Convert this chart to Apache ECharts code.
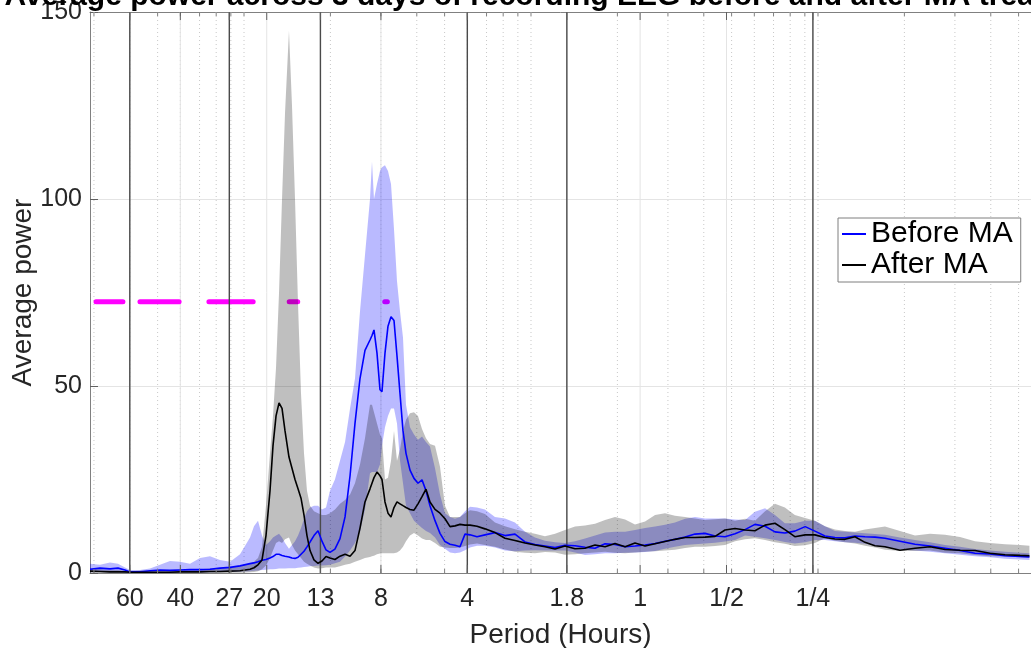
<!DOCTYPE html>
<html><head><meta charset="utf-8">
<script src="https://cdn.jsdelivr.net/npm/echarts@6/dist/echarts.min.js"></script>
<style>html,body{margin:0;padding:0;background:#fff}#c{width:1031px;height:648px}</style>
</head><body><div id="c"></div>
<script>
// ---- data (period in hours; power values) ----
const periodHours = [
 82.57,76.20,70.33,65.95,62.35,59.90,55.28,51.02,47.09,43.46,40.11,37.01,34.16,31.53,29.10,26.85,24.78,22.87,
 22.15,21.45,20.77,20.12,19.48,19.02,18.56,18.12,17.69,17.27,16.73,16.33,15.94,15.56,15.19,14.83,14.48,14.13,13.69,13.25,
 12.84,12.43,12.04,11.57,11.11,10.67,10.25,9.851,9.463,9.092,8.734,8.595,8.458,8.257,8.061,7.932,7.744,7.559,7.379,7.204,
 7.032,6.865,6.702,6.542,6.336,6.136,5.942,5.754,5.573,5.397,5.184,4.980,4.785,4.596,4.416,4.242,4.075,3.915,3.701,
 3.472,3.204,2.957,2.729,2.518,2.324,2.145,1.979,1.827,1.686,1.556,1.436,1.325,1.223,1.128,1.042,0.961,0.887,0.819,0.756,0.697,
 0.644,0.594,0.548,0.506,0.467,0.431,0.398,0.367,0.339,0.313,0.289,0.266,0.246,0.2269,0.2094,0.1932,0.1784,0.1646,0.1519,0.1402,
 0.1243,0.1102,0.0977,0.0866,0.0768,0.0681,0.0604,0.0535,0.0474,0.0440
];
const beforeMean = [
 1.0,1.3,1.1,1.3,0.8,0.3,0.3,0.6,0.8,0.7,0.8,0.9,0.9,1.0,1.3,1.5,1.9,2.5,
 2.7,3.0,3.4,3.6,4.0,4.4,5.0,5.0,4.7,4.5,4.3,4.0,3.9,4.2,5.0,5.8,7.0,8.3,10.0,11.3,
 8.5,6.2,5.5,6.4,9.2,15,26,40,52,59.5,62.3,63.5,65,58.8,49,48.5,58.8,66,68.5,67.5,
 58,48,38,32,27.5,25.3,24,24.9,22,18,14,10.6,8.4,7.7,7.4,7.0,10.4,10.2,9.7,
 10.2,10.8,10.0,10.4,8.3,7.6,7.2,6.8,7.4,7.3,6.9,6.6,7.8,7.6,7.0,7.2,7.5,7.9,8.5,9.0,9.6,
 10.4,10.6,9.9,9.7,10.5,11.6,13.0,12.5,11.0,10.7,11.2,12.4,11.2,9.9,9.5,9.4,9.9,9.7,9.6,9.3,
 8.5,7.7,7.2,6.6,6.0,5.3,5.1,4.6,4.4,4.3
];
const beforeLow = [
 0.2,0.3,0.2,0.2,0.1,0.0,0.0,0.1,0.2,0.1,0.2,0.2,0.2,0.2,0.3,0.3,0.4,0.5,
 0.6,0.7,0.8,0.9,1.0,1.0,1.1,1.2,1.2,1.2,1.3,1.3,1.3,1.4,1.5,1.6,1.7,1.8,1.9,2.0,
 2.0,2.1,2.2,2.6,3.0,4.4,6.0,8.0,11,17,26.7,27,27,27,29,34,39,42,44,44,
 40,30,24,18,16,14,13,12,11.2,10.7,9.5,7.5,6.5,5.5,5.3,5.5,6.1,6.8,7.3,
 7.3,6.8,6.0,5.8,6.0,6.1,6.0,6.0,6.0,5.5,4.8,5.0,5.3,5.3,5.4,5.5,5.6,5.9,6.5,7.0,7.5,
 7.7,7.9,8.1,8.4,8.8,10.0,9.7,9.3,8.8,8.3,7.9,8.2,8.8,8.8,8.5,8.2,8.1,7.8,7.3,6.8,
 6.3,6.0,5.7,5.3,4.9,4.5,4.2,3.8,3.6,3.5
];
const beforeHigh = [
 2.5,2.2,2.8,2.5,1.5,0.8,0.8,1.2,2.2,3.2,3.0,2.5,4.0,4.5,3.5,3.0,5.0,9.5,
 12.5,14,10,7.5,8.5,9.5,10,10.5,9.5,8,6.5,7.5,8.5,10,12,14.5,16.5,17.5,18,18,
 17,17.5,22,25,30,35,44,52,70,85,100,110,100,104,107.5,108.5,109,107.5,104,92,
 78,70,63,45,39,37,35.6,36.5,35,33.8,28,21,16,15,14.5,15,16.5,17.7,17.5,
 17.0,15.0,14.6,13.5,11.0,9.5,8.6,8.2,8.0,8.5,9.2,10.0,10.8,11.0,11.0,11.5,12.0,12.4,12.9,13.5,14.5,
 15.0,14.6,14.6,14.6,14.3,14.2,16.4,17.3,15.5,13.3,13.3,14.0,14.0,12.5,11.2,11.0,10.8,10.6,10.4,10.2,
 9.5,8.8,8.2,7.5,7.0,6.4,6.0,5.7,5.4,5.3
];
const afterMean = [
 0.5,0.4,0.3,0.3,0.3,0.2,0.2,0.2,0.2,0.2,0.3,0.3,0.3,0.4,0.4,0.5,0.6,1.0,
 1.4,2.2,3.5,10,22,34,42,45.5,44,38,31,28,25,22.5,20,15.5,10,6,3.5,2.6,
 3.2,4.4,4.0,3.6,4.5,5.0,4.5,6.0,12,19,22.5,24,25.5,27,26,25,19,16,15,17.5,
 19,18.5,18,17.5,17,16.8,18.5,20.4,22.4,19,17,16,14.5,12.4,12.6,13.0,12.8,12.8,12.5,
 11.8,10.8,9.3,8.7,8.0,7.5,7.0,6.4,7.2,6.5,6.6,7.5,7.0,7.9,7.0,8.0,7.2,7.8,8.4,9.0,9.5,
 9.5,9.6,9.8,11.5,11.9,11.5,11.3,12.8,13.3,11.6,9.7,10.2,10.2,9.5,9.1,9.0,9.7,8.2,7.3,7.0,
 6.1,6.6,7.0,6.3,6.1,6.0,5.3,4.9,4.7,4.6
];
const afterLow = [
 0.1,0.1,0.0,0.0,0.0,0.0,0.0,0.0,0.0,0.0,0.0,0.0,0.0,0.0,0.0,0.1,0.1,0.2,
 0.3,0.5,1.0,2.0,4.0,6.0,8.0,8.5,8.0,9.0,9.5,7.5,6.0,5.0,4.0,3.0,2.5,2.0,1.5,1.2,
 1.3,1.5,1.5,1.5,1.8,2.2,2.5,3.0,3.5,4.0,4.3,4.5,4.6,5.0,5.2,5.3,5.3,5.3,5.3,5.3,
 5.5,6.0,7.0,8.5,10,10.7,10,9.2,8.8,8.8,8.0,7.0,6.8,6.7,6.7,6.8,7.2,7.6,7.9,
 7.5,7.0,6.3,5.7,5.4,5.3,5.6,5.5,4.9,5.0,5.3,5.5,5.7,5.4,5.3,5.5,5.7,5.8,6.0,6.2,6.7,
 7.0,7.0,7.2,7.5,8.5,9.0,9.3,8.8,8.2,7.8,7.2,7.4,8.0,9.3,8.6,8.2,7.9,7.3,6.8,6.2,
 5.9,5.9,6.0,5.4,5.3,4.8,4.5,4.4,4.2,4.1
];
const afterHigh = [
 1.2,1.0,0.8,0.8,0.6,0.5,0.6,0.6,0.7,0.8,0.9,1.0,1.0,1.2,1.3,1.5,2.0,2.5,
 3.0,4.0,7.0,18,32,42,55,75,100,123,145,125,100,72,48,32,22,18,16.5,16,
 15.5,15.5,16,17,18.5,19.5,21,24,29,36,45,45,43,40,37,36,25,25.5,30,38,
 30,33,38,41,42.7,43,42,38.5,36,34.5,34,28.4,18,15,15,15,16,16.8,16.5,
 15.8,13.5,12.5,11.7,11.0,10.5,9.8,10.5,11.5,12.4,12.7,13.2,14.2,15.0,14.3,13.0,13.8,15.5,16.0,15.3,15.0,
 14.6,14.2,14.4,14.6,14.0,14.5,14.0,16.5,18.5,17.5,15.5,14.7,14.0,12.5,11.6,11.2,11.0,11.6,12.0,12.4,
 11.2,10.0,10.5,10.2,9.6,8.5,8.0,7.7,7.5,7.3
];
// axis ticks (periods, hours) and labels
const tickPeriods = [60, 40, 27, 20, 13, 8, 4, 1.8, 1, 0.5, 0.25];
const tickLabels = ['60', '40', '27', '20', '13', '8', '4', '1.8', '1', '1/2', '1/4'];
const markerPeriods = [60, 27, 13, 4, 1.8, 0.25];
// significance markers (period ranges, hours)
const sigStart = [78.7, 55.3, 31.8, 16.7, 7.76];
const sigEnd = [63.4, 40.4, 22.3, 15.6, 7.60];
const sigLevel = 72.5;
const axisPeriodRange = [82.57, 0.04345];
const yTicks = [0, 50, 100, 150];
const titleText = 'Average power across 3 days of recording EEG before and after MA treatment';

// ---- chart ----
const FONT = '"Liberation Sans", Arial, Helvetica, sans-serif';
const toCpd = p => 24 / p;
const xMin = toCpd(axisPeriodRange[0]);
const xMax = toCpd(axisPeriodRange[1]);
const minorCpd = [];
[0.1, 1, 10, 100].forEach(d => { for (let k = 1; k <= 9; k++) { const v = k * d; if (v >= xMin && v <= xMax) minorCpd.push(v); } });
const tickCpd = tickPeriods.map(toCpd);
const markerCpd = markerPeriods.map(toCpd);

function band(lo, hi, color, z) {
  return {
    type: 'custom', z, silent: true, clip: true,
    data: [[toCpd(periodHours[0]), 0]],
    renderItem: (params, api) => {
      const pts = [];
      for (let i = 0; i < periodHours.length; i++) pts.push(api.coord([toCpd(periodHours[i]), hi[i]]));
      for (let i = periodHours.length - 1; i >= 0; i--) pts.push(api.coord([toCpd(periodHours[i]), lo[i]]));
      return { type: 'polygon', shape: { points: pts }, style: { fill: color } };
    }
  };
}
function vlines(values, z, style, mode, len) {
  return {
    type: 'custom', z, silent: true, clip: false,
    data: values.map(v => [v, 0]),
    renderItem: (params, api) => {
      const b = api.coord([api.value(0), yTicks[0]]);
      const t = api.coord([api.value(0), yTicks[yTicks.length - 1]]);
      let y1 = b[1], y2 = t[1];
      if (mode === 'bottom') { y1 = b[1]; y2 = b[1] - len; }
      if (mode === 'top') { y1 = t[1]; y2 = t[1] + len; }
      return { type: 'line', shape: { x1: b[0], y1, x2: b[0], y2 }, style };
    }
  };
}

const series = [
  vlines(minorCpd, 1, { stroke: '#c8c8c8', lineWidth: 1, lineDash: [1, 3] }, 'full'),
  vlines(tickCpd, 1, { stroke: '#e4e4e4', lineWidth: 1 }, 'full'),
  vlines(minorCpd, 8, { stroke: '#808080', lineWidth: 1 }, 'bottom', 4),
  vlines(minorCpd, 8, { stroke: '#808080', lineWidth: 1 }, 'top', 4),
  vlines(tickCpd, 8, { stroke: '#606060', lineWidth: 1 }, 'bottom', 8),
  vlines(tickCpd, 8, { stroke: '#606060', lineWidth: 1 }, 'top', 8),
];
sigStart.forEach((s, i) => {
  series.push({
    type: 'line', z: 2, silent: true, symbol: 'none',
    data: [[toCpd(s), sigLevel], [toCpd(sigEnd[i]), sigLevel]],
    lineStyle: { color: '#ff00ff', width: 5, cap: 'round' }
  });
});
series.push(band(beforeLow, beforeHigh, 'rgba(0,0,255,0.27)', 3));
series.push(band(afterLow, afterHigh, 'rgba(0,0,0,0.25)', 4));
series.push(vlines(markerCpd, 5, { stroke: '#4a4a4a', lineWidth: 1.4 }, 'full'));
series.push({
  type: 'line', name: 'Before MA', z: 6, symbol: 'none', showSymbol: false,
  data: periodHours.map((p, i) => [toCpd(p), beforeMean[i]]),
  lineStyle: { color: '#0000ff', width: 1.6 }, itemStyle: { color: '#0000ff' }
});
series.push({
  type: 'line', name: 'After MA', z: 7, symbol: 'none', showSymbol: false,
  data: periodHours.map((p, i) => [toCpd(p), afterMean[i]]),
  lineStyle: { color: '#000000', width: 1.6 }, itemStyle: { color: '#000000' }
});
series.push({
  type: 'custom', z: 10, silent: true, clip: false,
  data: tickCpd.map(v => [v, 0]),
  renderItem: (params, api) => {
    const b = api.coord([api.value(0), 0]);
    return { type: 'text', x: b[0], y: b[1] + 26,
      style: { text: tickLabels[params.dataIndex], fill: '#262626', fontSize: 25, fontFamily: FONT, align: 'center', verticalAlign: 'middle' } };
  }
});

const chart = echarts.init(document.getElementById('c'), null, { renderer: 'canvas' });
chart.setOption({
  animation: false,
  backgroundColor: '#ffffff',
  grid: { left: 90, top: 12, width: 941, height: 561, containLabel: false, outerBoundsMode: 'none' },
  graphic: [{ type: 'text', x: 560, y: 12, z: 20,
    style: { text: titleText, fill: '#000', fontSize: 30, fontWeight: 'bold', fontFamily: FONT, align: 'center', verticalAlign: 'bottom' } }],
  legend: {
    data: ['Before MA', 'After MA'], orient: 'vertical', left: 838, top: 218,
    icon: 'rect', itemWidth: 24, itemHeight: 2, itemGap: 1, padding: [1, 8, 2, 4],
    borderColor: '#7f7f7f', borderWidth: 1, backgroundColor: '#ffffff',
    textStyle: { fontSize: 30, color: '#000', fontFamily: FONT }
  },
  xAxis: [{
    type: 'log', logBase: 10, min: xMin, max: xMax,
    axisLine: { show: true, onZero: false, lineStyle: { color: '#808080' } },
    axisTick: { show: false }, axisLabel: { show: false }, splitLine: { show: false },
    name: 'Period (Hours)', nameLocation: 'middle', nameGap: 48, nameMoveOverlap: false,
    nameTextStyle: { fontSize: 28, color: '#262626', fontFamily: FONT }
  }, {
    type: 'log', logBase: 10, min: xMin, max: xMax, position: 'top',
    axisLine: { show: true, onZero: false, lineStyle: { color: '#808080' } },
    axisTick: { show: false }, axisLabel: { show: false }, splitLine: { show: false }
  }],
  yAxis: {
    type: 'value', min: yTicks[0], max: yTicks[yTicks.length - 1], interval: 50,
    axisLine: { show: true, lineStyle: { color: '#808080' } },
    axisTick: { show: true, inside: true, length: 8, lineStyle: { color: '#606060' } },
    axisLabel: { fontSize: 25, color: '#262626', margin: 8, fontFamily: FONT },
    splitLine: { show: true, lineStyle: { color: '#e4e4e4' } },
    name: 'Average power', nameLocation: 'middle', nameGap: 53, nameMoveOverlap: false,
    nameTextStyle: { fontSize: 28, color: '#262626', fontFamily: FONT }
  },
  series
});
</script>
</body></html>
